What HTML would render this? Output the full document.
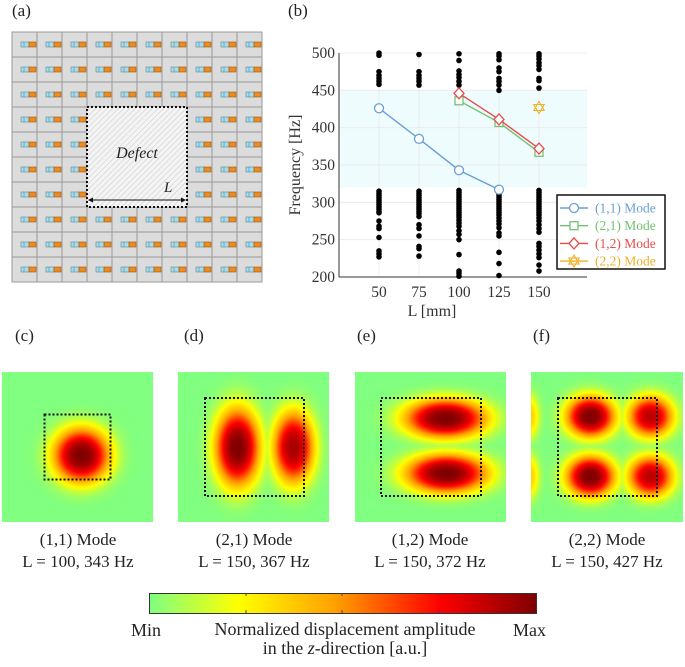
<!DOCTYPE html>
<html><head><meta charset="utf-8"><style>
body{margin:0;background:#fff;width:685px;height:667px;overflow:hidden;position:relative;font-family:"Liberation Serif",serif}
.lbl{position:absolute;font-size:17px;color:#222}
.cap{position:absolute;font-size:17px;color:#222;text-align:center;width:170px;line-height:22px}
canvas{position:absolute}
</style></head><body>
<div class="lbl" style="left:12px;top:1px">(a)</div>
<div class="lbl" style="left:288px;top:1px">(b)</div>
<div class="lbl" style="left:15px;top:326px">(c)</div>
<div class="lbl" style="left:184px;top:326px">(d)</div>
<div class="lbl" style="left:357px;top:326px">(e)</div>
<div class="lbl" style="left:533px;top:326px">(f)</div>

<svg id="grid" width="685" height="667" style="position:absolute;left:0;top:0"></svg>
<svg id="chart" width="685" height="330" style="position:absolute;left:0;top:0"></svg>

<canvas id="m1" width="151" height="150" style="left:2px;top:372px"></canvas>
<canvas id="m2" width="151" height="150" style="left:178px;top:372px"></canvas>
<canvas id="m3" width="151" height="150" style="left:355px;top:372px"></canvas>
<canvas id="m4" width="152" height="150" style="left:531px;top:372px"></canvas>
<svg width="685" height="667" style="position:absolute;left:0;top:0">
<g fill="none" stroke="#111" stroke-width="2" stroke-dasharray="2,2">
<rect x="44.5" y="414.5" width="66" height="65"/>
<rect x="205" y="398" width="99" height="98"/>
<rect x="381" y="398" width="100" height="98"/>
<rect x="558" y="398" width="99" height="98"/>
</g></svg>

<div class="cap" style="left:-7px;top:529px">(1,1) Mode<br>L = 100, 343 Hz</div>
<div class="cap" style="left:169px;top:529px">(2,1) Mode<br>L = 150, 367 Hz</div>
<div class="cap" style="left:345px;top:529px">(1,2) Mode<br>L = 150, 372 Hz</div>
<div class="cap" style="left:522px;top:529px">(2,2) Mode<br>L = 150, 427 Hz</div>

<div style="position:absolute;left:149px;top:593px;width:386px;height:19px;border:1px solid #333;background:linear-gradient(to right,#80ff80 0%,#ffff00 23%,#ffa000 48%,#ff0000 75%,#800000 100%)"></div>
<svg width="685" height="667" style="position:absolute;left:0;top:0"><g stroke="#444">
<line x1="246" y1="593" x2="246" y2="596"/><line x1="342" y1="593" x2="342" y2="596"/><line x1="439" y1="593" x2="439" y2="596"/>
<line x1="246" y1="610" x2="246" y2="613"/><line x1="342" y1="610" x2="342" y2="613"/><line x1="439" y1="610" x2="439" y2="613"/></g></svg>
<div class="lbl" style="left:131px;top:620px;font-size:18px">Min</div>
<div class="lbl" style="left:513px;top:620px;font-size:18px">Max</div>
<div class="lbl" style="left:170px;top:620px;width:350px;text-align:center;font-size:18px;line-height:19px">Normalized displacement amplitude<br>in the <i>z</i>-direction [a.u.]</div>

<script>
const NS="http://www.w3.org/2000/svg";
function mk(p,t,a){const e=document.createElementNS(NS,t);for(const k in a)e.setAttribute(k,a[k]);p.appendChild(e);return e;}
// ---- panel (a) grid
const g=document.getElementById('grid');
for(let r=0;r<10;r++)for(let c=0;c<10;c++){
  const x=12+c*25,y=32+r*25;
  const cell=mk(g,'rect',{x:x,y:y,width:25,height:25,fill:'#dcdcdc',stroke:'#999','stroke-width':1});
  
  
  if(c>=3&&c<=6&&r>=3&&r<=6)continue;
  mk(g,'rect',{x:x+9,y:y+10,width:8,height:5,fill:'#a8dcea',stroke:'#5a8a9a','stroke-width':0.6});
  mk(g,'line',{x1:x+12,y1:y+10,x2:x+12,y2:y+15,stroke:'#5a8a9a','stroke-width':0.6});
  mk(g,'rect',{x:x+17,y:y+10,width:7,height:5,fill:'#ee8a22',stroke:'#9a5a10','stroke-width':0.6});
}
const defs=mk(g,'defs',{});
const pat=mk(defs,'pattern',{id:'hatch',width:4,height:4,patternUnits:'userSpaceOnUse',patternTransform:'rotate(45)'});
mk(pat,'rect',{width:4,height:4,fill:'#f4f4f4'});
mk(pat,'line',{x1:0,y1:0,x2:0,y2:4,stroke:'#d0d0d0','stroke-width':1.2});
const dr=mk(g,'rect',{x:87,y:107,width:100,height:100,fill:'url(#hatch)',stroke:'#111','stroke-width':2,'stroke-dasharray':'2,2'});


let t=mk(g,'text',{x:137,y:158,'font-size':16,'font-style':'italic','text-anchor':'middle',fill:'#222'});t.textContent='Defect';

t=mk(g,'text',{x:164,y:192,'font-size':15,'font-style':'italic',fill:'#222'});t.textContent='L';

mk(g,'line',{x1:90,y1:200,x2:184,y2:200,stroke:'#111','stroke-width':1});
mk(g,'path',{d:'M88,200 l5,-2.5 v5z M186,200 l-5,-2.5 v5z',fill:'#111'});

// ---- chart (b)
const xTicks=[50,75,100,125,150];
const yTicks=[200,250,300,350,400,450,500];
const bandRange=[320,450];
const dotL=[50,75,100,125,150];
const dotF=[
 [500,497,475,470,466,462,458,315,312,309,306,303,300,297,294,291,288,286,275,268,265,253,235,231,227],
 [498,475,470,466,462,457,315,312,309,306,303,300,297,294,291,288,285,281,270,265,255,241,238,228],
 [499,490,476,471,467,462,457,316,313,310,307,304,301,298,295,292,289,286,283,280,276,272,268,262,257,250,230,208,205,201],
 [499,496,491,480,475,466,462,457,450,316,313,310,307,304,301,298,295,292,289,286,283,279,275,271,266,259,255,233,218,202],
 [499,496,492,487,483,478,466,463,453,316,313,310,307,304,301,298,295,292,289,286,283,279,275,270,265,260,245,241,236,231,226,216,208]
];
const s11L=[50,75,100,125], s11F=[426,385,343,317];
const s21L=[100,125,150], s21F=[436,407,367];
const s12L=[100,125,150], s12F=[446,411,372];
const s22L=[150], s22F=[427];
const X0=339,X1=587,Y0=277,Y1=53;
const xs=v=>X0+(v-25)/(180-25)*(X1-X0);
const ys=v=>Y0-(v-200)/(500-200)*(Y0-Y1);
const c=document.getElementById('chart');
mk(c,'rect',{x:X0,y:Y1,width:X1-X0,height:Y0-Y1,fill:'#fff'});
const band=mk(c,'rect',{x:X0,y:ys(bandRange[1]),width:X1-X0,height:ys(bandRange[0])-ys(bandRange[1]),fill:'#eefcfd'});

xTicks.forEach(v=>{mk(c,'line',{x1:xs(v),y1:Y1,x2:xs(v),y2:Y0,stroke:'#ececec'});
 const tx=mk(c,'text',{x:xs(v),y:Y0+20,'font-size':15.5,'text-anchor':'middle',fill:'#333'});tx.textContent=v;
 });
yTicks.forEach(v=>{mk(c,'line',{x1:X0,y1:ys(v),x2:X1,y2:ys(v),stroke:'#ececec'});
 const tx=mk(c,'text',{x:X0-4,y:ys(v)+5,'font-size':15.5,'text-anchor':'end',fill:'#333'});tx.textContent=v;
 });
mk(c,'line',{x1:X0,y1:Y1,x2:X0,y2:Y0,stroke:'#333'});
mk(c,'line',{x1:X0,y1:Y0,x2:X1,y2:Y0,stroke:'#333'});
t=mk(c,'text',{x:432,y:316,'font-size':16,'text-anchor':'middle',fill:'#333'});t.textContent='L [mm]';

t=mk(c,'text',{x:300,y:165,'font-size':16,'text-anchor':'middle',fill:'#333',transform:'rotate(-90 300 165)'});t.textContent='Frequency [Hz]';

dotL.forEach((L,i)=>dotF[i].forEach(f=>{const d=mk(c,'circle',{cx:xs(L),cy:ys(f),r:2.8,fill:'#000'});
 }));
function marker(p,type,x,y,col){
 if(type==='o')return mk(p,'circle',{cx:x,cy:y,r:4.5,fill:'#fff',stroke:col,'stroke-width':1.3});
 if(type==='s')return mk(p,'rect',{x:x-4,y:y-4,width:8,height:8,fill:'#fff',stroke:col,'stroke-width':1.3});
 if(type==='d')return mk(p,'path',{d:`M${x},${y-5.5}L${x+5},${y}L${x},${y+5.5}L${x-5},${y}Z`,fill:'#fff',stroke:col,'stroke-width':1.3});
 return mk(p,'path',{d:`M${x},${y-6}L${x+5.2},${y+3}L${x-5.2},${y+3}Z M${x},${y+6}L${x+5.2},${y-3}L${x-5.2},${y-3}Z`,fill:'#fff',stroke:col,'stroke-width':1.1});
}
const series=[[s11L,s11F,'#6b9fd2','o','(1,1) Mode','series-11'],[s21L,s21F,'#72c272','s','(2,1) Mode','series-21'],[s12L,s12F,'#e84a4a','d','(1,2) Mode','series-12'],[s22L,s22F,'#f0b02a','h','(2,2) Mode','series-22']];
series.forEach(([Ls,Fs,col,m,name,dn])=>{
 const pl=mk(c,'polyline',{points:Ls.map((L,i)=>xs(L)+','+ys(Fs[i])).join(' '),fill:'none',stroke:col,'stroke-width':1.4});
 
 Ls.forEach((L,i)=>{const mm=marker(c,m,xs(L),ys(Fs[i]),col);});
});
const lg=mk(c,'g',{});

mk(lg,'rect',{x:557,y:195,width:108,height:74,fill:'#fff',stroke:'#111','stroke-width':1.5});
series.forEach(([Ls,Fs,col,m,name,dn],i)=>{
 const y=208+i*17.7;
 mk(lg,'line',{x1:560,y1:y,x2:588,y2:y,stroke:col,'stroke-width':1.4});
 marker(lg,m,574,y,col);
 const tx=mk(lg,'text',{x:595,y:y+4.5,'font-size':13.5,fill:col});tx.textContent=name;
 
});

// ---- mode maps
function cmap(v){
 const st=[[0,128,255,128],[0.23,255,255,0],[0.48,255,160,0],[0.75,255,0,0],[1,128,0,0]];
 v=Math.max(0,Math.min(1,v));
 for(let i=1;i<st.length;i++)if(v<=st[i][0]){const a=st[i-1],b=st[i],f=(v-a[0])/(b[0]-a[0]);
  return [a[1]+(b[1]-a[1])*f,a[2]+(b[2]-a[2])*f,a[3]+(b[3]-a[3])*f];}
 return [128,0,0];
}
function draw(id,lobes){
 const cv=document.getElementById(id),ctx=cv.getContext('2d'),W=cv.width,H=cv.height;
 const im=ctx.createImageData(W,H);
 for(let y=0;y<H;y++)for(let x=0;x<W;x++){
  let v=0;
  for(const [cx,cy,a,b,amp] of lobes){const q=((x-cx)/a)**2+((y-cy)/b)**2;v=Math.max(v,amp*Math.exp(-Math.pow(q,1.3)));}
  const [r,gg,bb]=cmap(v);const k=(y*W+x)*4;
  im.data[k]=r;im.data[k+1]=gg;im.data[k+2]=bb;im.data[k+3]=255;}
 ctx.putImageData(im,0,0);
}
draw('m1',[[79,83,29,28,1]]);
draw('m2',[[59,75,23,40,1],[115,75,21,37,0.92]]);
draw('m3',[[90,46,42,20,1],[91,101,42,20,1]]);
draw('m4',[[59,44,25,21,1],[119,44,23,21,0.88],[59,104,25,21,1],[119,104,23,21,0.88],[-2,44,10,22,0.35],[-2,104,10,22,0.35]]);
</script>
</body></html>
